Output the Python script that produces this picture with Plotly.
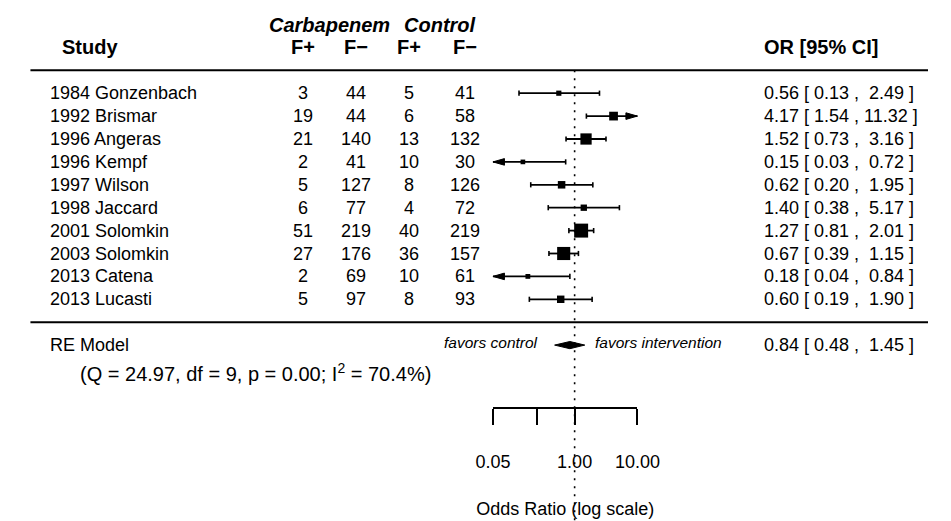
import math
import plotly.graph_objects as go

# ---------------- data ----------------
studies = ["1984 Gonzenbach", "1992 Brismar", "1996 Angeras", "1996 Kempf", "1997 Wilson",
           "1998 Jaccard", "2001 Solomkin", "2003 Solomkin", "2013 Catena", "2013 Lucasti"]
carb_fpos = [3, 19, 21, 2, 5, 6, 51, 27, 2, 5]
carb_fneg = [44, 44, 140, 41, 127, 77, 219, 176, 69, 97]
ctrl_fpos = [5, 6, 13, 10, 8, 4, 40, 36, 10, 8]
ctrl_fneg = [41, 58, 132, 30, 126, 72, 219, 157, 61, 93]
or_est = [0.56, 4.17, 1.52, 0.15, 0.62, 1.40, 1.27, 0.67, 0.18, 0.60]
or_lo = [0.13, 1.54, 0.73, 0.03, 0.20, 0.38, 0.81, 0.39, 0.04, 0.19]
or_hi = [2.49, 11.32, 3.16, 0.72, 1.95, 5.17, 2.01, 1.15, 0.84, 1.90]
re_est, re_lo, re_hi = 0.84, 0.48, 1.45
re_label = "RE Model"
re_stats = "(Q = 24.97, df = 9, p = 0.00; I<sup>2</sup> = 70.4%)"
axis_ticks = [0.05, 1, 10]
axis_ticktext = ["0.05", "1.00", "10.00"]
axis_unlabeled_ticks = [0.25]
alim = [0.05, 10]
col_headers = ["F+", "F\u2212", "F+", "F\u2212"]
group_headers = ["Carbapenem", "Control"]
xlab = "Odds Ratio (log scale)"
favors = ["favors control", "favors intervention"]

# ---------------- layout constants ----------------
W, H = 951, 521
FONT = "Liberation Sans, Arial, sans-serif"
FS = 18
FSH = 20               # bold headers
X_ONE = 581.7          # pixel of OR = 1
PX_DEC = 65.6          # pixels per decade
ROW0 = 322.2           # pixel y of row 0
PX_ROW = 22.9          # pixels per row

def px_of(v):
    return X_ONE + PX_DEC * math.log10(v)

def dlog(v, px):       # shift value v by px pixels on the log axis
    return 10 ** (math.log10(v) + px / PX_DEC)

def rows_of(px):
    return px / PX_ROW

k = len(studies)
rows = [k - i for i in range(k)]
re_row = -1

# box sizes from random-effects weights (DerSimonian-Laird)
vi = [1 / a + 1 / b + 1 / c + 1 / d for a, b, c, d in zip(carb_fpos, carb_fneg, ctrl_fpos, ctrl_fneg)]
yi = [math.log((a * d) / (b * c)) for a, b, c, d in zip(carb_fpos, carb_fneg, ctrl_fpos, ctrl_fneg)]
w = [1 / v for v in vi]
mu = sum(wi * y for wi, y in zip(w, yi)) / sum(w)
Q = sum(wi * (y - mu) ** 2 for wi, y in zip(w, yi))
C = sum(w) - sum(wi ** 2 for wi in w) / sum(w)
tau2 = max(0.0, (Q - (k - 1)) / C)
wre = [1 / (v + tau2) for v in vi]
ps = [wi / sum(wre) for wi in wre]
psize = [(p - min(ps)) / (max(ps) - min(ps)) + 0.5 for p in ps]
box_px = [9.3 * p for p in psize]

fig = go.Figure()

# reference line (on visible axis subplot, drawn first)
ybot = (ROW0 - H) / PX_ROW
fig.add_trace(go.Scatter(x=[1, 1], y=[k + 1, ybot], xaxis="x2", yaxis="y", mode="lines",
                         line=dict(color="black", width=1.6, dash="2px,6px"),
                         hoverinfo="skip", showlegend=False))

# CI lines
lx, ly = [], []
cx, cy = [], []
ax_, ay_ = [], []
cap = rows_of(2.6)
ah = rows_of(3.3)
for r, lo, hi in zip(rows, or_lo, or_hi):
    l = max(lo, alim[0]); h = min(hi, alim[1])
    lx += [l, h, None]; ly += [r, r, None]
    if lo >= alim[0]:
        cx += [lo, lo, None]; cy += [r - cap, r + cap, None]
    else:
        b = dlog(alim[0], 12)
        ax_ += [alim[0], b, b, alim[0], None]; ay_ += [r, r + ah, r - ah, r, None]
    if hi <= alim[1]:
        cx += [hi, hi, None]; cy += [r - cap, r + cap, None]
    else:
        b = dlog(alim[1], -12)
        ax_ += [alim[1], b, b, alim[1], None]; ay_ += [r, r + ah, r - ah, r, None]

fig.add_trace(go.Scatter(x=lx, y=ly, mode="lines", line=dict(color="black", width=1.8),
                         hoverinfo="skip", showlegend=False))
fig.add_trace(go.Scatter(x=cx, y=cy, mode="lines", line=dict(color="black", width=1.6),
                         hoverinfo="skip", showlegend=False))
fig.add_trace(go.Scatter(x=ax_, y=ay_, mode="lines", fill="toself", fillcolor="black",
                         line=dict(color="black", width=1), hoverinfo="skip", showlegend=False))
fig.add_trace(go.Scatter(x=or_est, y=rows, mode="markers",
                         marker=dict(symbol="square", size=box_px, color="black", opacity=1,
                                     line=dict(width=0)),
                         hoverinfo="skip", showlegend=False))

# summary diamond
dh = rows_of(3.6)
fig.add_trace(go.Scatter(x=[re_lo, re_est, re_hi, re_est, re_lo],
                         y=[re_row, re_row + dh, re_row, re_row - dh, re_row],
                         mode="lines", fill="toself", fillcolor="black",
                         line=dict(color="black", width=1), hoverinfo="skip", showlegend=False))

ann = []
def txt(xpx, row, s, anchor="left", size=FS, yshift=0):
    ann.append(dict(x=xpx / W, xref="paper", y=row, yref="y", text=s, showarrow=False,
                    xanchor=anchor, yanchor="middle", yshift=yshift,
                    font=dict(family=FONT, size=size, color="black")))

col_x = [298, 353, 409, 467]
for r, s, a, b, c, d, e, lo, hi in zip(rows, studies, carb_fpos, carb_fneg, ctrl_fpos, ctrl_fneg,
                                        or_est, or_lo, or_hi):
    txt(31.5, r, s)
    for xx, v in zip(col_x, [a, b, c, d]):
        txt(xx, r, str(v), "center")
    lab = f"{e:.2f} [{lo:5.2f} , {hi:5.2f} ]".replace(" ", "\u00a0")
    txt(778, r, lab)

# headers
txt(44, k + 2, "<b>Study</b>", size=FSH)
for xx, s in zip(col_x, col_headers):
    txt(xx, k + 2, f"<b>{s}</b>", "center", FSH)
txt(326, k + 3, f"<b><i>{group_headers[0]}</i></b>", "center", FSH)
txt(441, k + 3, f"<b><i>{group_headers[1]}</i></b>", "center", FSH)
txt(778, k + 2, "<b>OR [95% CI]</b>", size=FSH)

# RE row
txt(31.5, re_row, re_label)
txt(63, re_row - rows_of(27), re_stats, size=FSH)
txt(778, re_row, f"{re_est:.2f} [{re_lo:5.2f} , {re_hi:5.2f} ]".replace(" ", "\u00a0"))
txt(545, re_row + rows_of(2.5), f"<i>{favors[0]}</i>", "right", 15.5)
txt(601, re_row + rows_of(2.5), f"<i>{favors[1]}</i>", "left", 15.5)

shapes = [
    dict(type="line", xref="paper", yref="y", x0=13 / W, x1=1, y0=k + 1, y1=k + 1,
         line=dict(color="black", width=2)),
    dict(type="line", xref="paper", yref="y", x0=13 / W, x1=1, y0=0, y1=0,
         line=dict(color="black", width=2)),
]

axis_px = 407.5
fig.update_layout(
    width=W, height=H, margin=dict(l=0, r=0, t=0, b=0),
    paper_bgcolor="white", plot_bgcolor="rgba(0,0,0,0)", showlegend=False,
    annotations=ann, shapes=shapes,
    xaxis=dict(type="log", domain=[0, 1], range=[-X_ONE / PX_DEC, (W - X_ONE) / PX_DEC],
               visible=False, fixedrange=True),
    xaxis2=dict(type="log", domain=[px_of(alim[0]) / W, px_of(alim[1]) / W],
                range=[math.log10(alim[0]), math.log10(alim[1])],
                anchor="free", position=1 - axis_px / H,
                showline=True, linewidth=2, linecolor="black",
                ticks="outside", ticklen=16, tickwidth=2, tickcolor="black",
                tickmode="array", tickvals=axis_ticks, ticktext=axis_ticktext,
                minor=dict(tickmode="array", tickvals=axis_unlabeled_ticks, ticks="outside",
                           ticklen=16, tickwidth=2, tickcolor="black", showgrid=False),
                tickfont=dict(family=FONT, size=FS, color="black"),
                ticklabelstandoff=22, showgrid=False, zeroline=False, fixedrange=True,
                title=dict(text=xlab, font=dict(family=FONT, size=FS, color="black"), standoff=30)),
    yaxis=dict(domain=[0, 1], range=[ybot, ROW0 / PX_ROW], visible=False, fixedrange=True),
)

fig.write_html("out.html")
